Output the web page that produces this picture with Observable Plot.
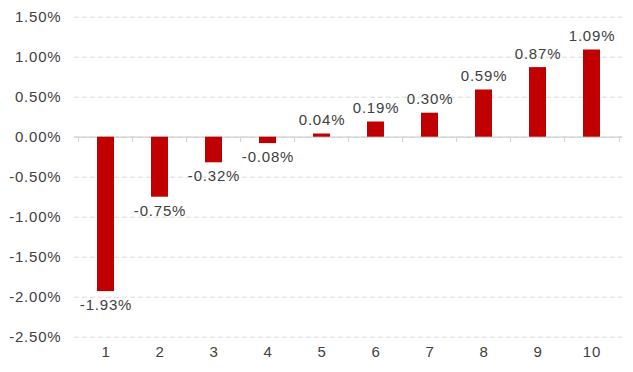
<!DOCTYPE html>
<html>
<head>
<meta charset="utf-8">
<script src="https://cdn.jsdelivr.net/npm/d3@7"></script>
<script src="https://cdn.jsdelivr.net/npm/@observablehq/plot@0.6"></script>
<style>
  html, body { margin: 0; padding: 0; background: #fff; }
  #chart svg { display: block; }
  #chart svg text { letter-spacing: 0.8px; }
</style>
</head>
<body>
<div id="chart"></div>
<script>
const categories = ["1", "2", "3", "4", "5", "6", "7", "8", "9", "10"];
const values = [-1.93, -0.75, -0.32, -0.08, 0.04, 0.19, 0.30, 0.59, 0.87, 1.09];
const yTicks = [-2.5, -2.0, -1.5, -1.0, -0.5, 0, 0.5, 1.0, 1.5];

const data = categories.map((c, i) => ({ cat: c, v: values[i] }));
const pos = data.filter(d => d.v >= 0);
const neg = data.filter(d => d.v < 0);
const fmt = v => v.toFixed(2) + "%";

const W = 633, H = 372;
const mL = 74, mR = 11;
const bw = (W - mL - mR) / categories.length;

const chart = Plot.plot({
  width: W,
  height: H,
  marginLeft: mL,
  marginRight: mR,
  marginTop: 16.7,
  marginBottom: 35.3,
  style: { fontFamily: "Liberation Sans, Arial, sans-serif", fontSize: "15px", background: "#fff" },
  x: { domain: categories, paddingInner: 0.69, paddingOuter: 0.345, label: null },
  y: { domain: [-2.5, 1.5], label: null },
  marks: [
    Plot.gridY(yTicks, { stroke: "#d9d9d9", strokeOpacity: 1, strokeDasharray: "5,3" }),
    Plot.ruleY([0], { stroke: "#d0d0d0", strokeWidth: 1.2 }),
    Plot.ruleX(categories, { x: d => d, y1: 0, y2: -0.065, dx: -bw / 2, stroke: "#d0d0d0" }),
    Plot.ruleX([categories[categories.length - 1]], { x: d => d, y1: 0, y2: -0.065, dx: bw / 2, stroke: "#d0d0d0" }),
    Plot.barY(data, { x: "cat", y: "v", fill: "#c00000" }),
    Plot.text(pos, { x: "cat", y: "v", text: d => fmt(d.v), lineAnchor: "bottom", dy: -9, fill: "#404040", fontSize: 15 }),
    Plot.text(neg, { x: "cat", y: "v", text: d => fmt(d.v), lineAnchor: "top", dy: 8, fill: "#404040", fontSize: 15 }),
    Plot.axisY(yTicks, { tickSize: 0, tickPadding: 13, tickFormat: d => d.toFixed(2) + "%", fill: "#404040", fontSize: 15 }),
    Plot.axisX({ tickSize: 0, tickPadding: 9, fill: "#404040", fontSize: 15 })
  ]
});
document.getElementById("chart").appendChild(chart);
</script>
</body>
</html>
